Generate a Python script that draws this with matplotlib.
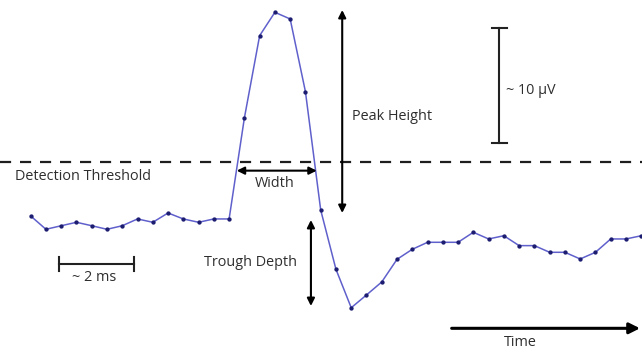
import matplotlib
matplotlib.use("Agg")
import matplotlib.pyplot as plt
import numpy as np

# ---- data (sample index, amplitude in µV relative to baseline) ----
sample_index = list(range(41))
amplitude_uv = [0.35, -0.81, -0.50, -0.20, -0.50, -0.81, -0.50, 0.09, -0.20, 0.61,
                0.09, -0.20, 0.09, 0.09, 8.87, 16.03, 18.06, 17.48, 11.16, 0.87,
                -4.29, -7.63, -6.52, -5.39, -3.42, -2.55, -1.94, -1.94, -1.94, -1.07,
                -1.65, -1.37, -2.23, -2.23, -2.81, -2.81, -3.39, -2.81, -1.65, -1.65,
                -1.37]
threshold_uv = 5.0

labels = {
    "threshold": "Detection Threshold",
    "width": "Width",
    "peak": "Peak Height",
    "trough": "Trough Depth",
    "time_scale": "~ 2 ms",
    "amp_scale": "~ 10 \u00b5V",
    "time": "Time",
}

plt.rcParams['font.family'] = ['Open Sans', 'DejaVu Sans']
txt_color = '#2e2e2e'
fs = 10.4

fig = plt.figure(figsize=(6.42, 3.52), dpi=100)
ax = fig.add_axes([0, 0, 1, 1])
ax.set_xlim(-2.01, 40.05)
ax.set_ylim(-11.48, 19.13)
ax.axis('off')

# threshold
ax.axhline(threshold_uv, color='#1e1e1e', lw=1.6, dashes=(5.0, 4.0), zorder=1)

# waveform
ax.plot(sample_index, amplitude_uv, color='#6060cc', lw=1.1, zorder=3)
ax.plot(sample_index, amplitude_uv, ls='none', marker='o', ms=2.1,
        color='#1c1c70', zorder=4)

arrow_kw = dict(arrowstyle='<|-|>', color='black', lw=1.5,
                mutation_scale=11, shrinkA=0, shrinkB=0)

# width
ax.annotate('', xy=(13.50, 4.29), xytext=(18.74, 4.29), arrowprops=arrow_kw)
ax.text(16.0, 3.13, labels["width"], ha='center', va='center', fontsize=fs, color=txt_color)

# peak height
ax.annotate('', xy=(20.41, 18.26), xytext=(20.41, 0.61), arrowprops=arrow_kw)
ax.text(21.03, 8.96, labels["peak"], ha='left', va='center', fontsize=fs, color=txt_color)

# trough depth
ax.annotate('', xy=(18.36, 0.0), xytext=(18.36, -7.48), arrowprops=arrow_kw)
ax.text(17.44, -3.71, labels["trough"], ha='right', va='center', fontsize=fs, color=txt_color)

# threshold label
ax.text(-1.03, 3.74, labels["threshold"], ha='left', va='center', fontsize=fs, color=txt_color)

# 2 ms scale bar
ax.plot([1.85, 6.79], [-3.83, -3.83], color='#222222', lw=1.5)
ax.plot([1.85, 1.85], [-3.23, -4.43], color='#222222', lw=1.5)
ax.plot([6.79, 6.79], [-3.23, -4.43], color='#222222', lw=1.5)
ax.text(4.15, -5.04, labels["time_scale"], ha='center', va='center', fontsize=fs, color=txt_color)

# 10 µV scale bar
ax.plot([30.70, 30.70], [6.67, 16.70], color='#222222', lw=1.5)
ax.plot([30.22, 31.18], [16.70, 16.70], color='#222222', lw=1.5)
ax.plot([30.22, 31.18], [6.67, 6.67], color='#222222', lw=1.5)
ax.text(31.14, 11.30, labels["amp_scale"], ha='left', va='center', fontsize=fs, color=txt_color)

# time arrow
ax.annotate('', xy=(39.92, -9.42), xytext=(27.58, -9.42),
            arrowprops=dict(arrowstyle='-|>', color='black', lw=2.2,
                            mutation_scale=16, shrinkA=0, shrinkB=0))
ax.text(32.05, -10.67, labels["time"], ha='center', va='center', fontsize=fs, color=txt_color)

fig.savefig('out.png', dpi=100, facecolor='white')
